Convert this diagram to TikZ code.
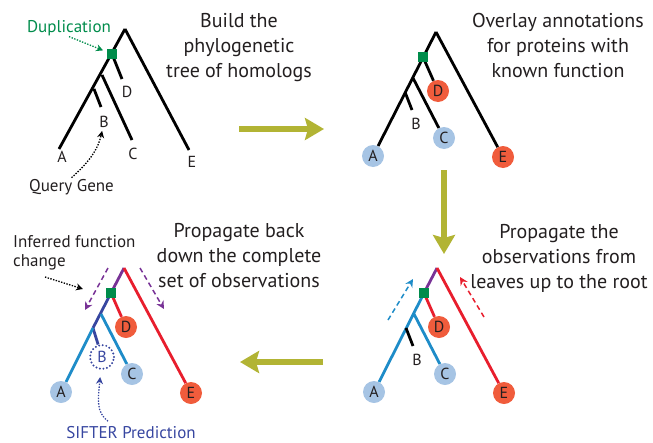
\documentclass[tikz,border=0pt]{standalone}
\usepackage{fontspec}
\setmainfont{PT Sans}
\usetikzlibrary{arrows.meta}

\definecolor{inkgray}{RGB}{35,31,32}
\definecolor{arrowolive}{RGB}{178,180,52}
\definecolor{dupgreen}{RGB}{0,140,75}
\definecolor{leafred}{RGB}{240,92,60}
\definecolor{leafblue}{RGB}{166,196,228}
\definecolor{linered}{RGB}{232,30,45}
\definecolor{linecyan}{RGB}{30,140,200}
\definecolor{lineblue}{RGB}{55,70,160}
\definecolor{linepurple}{RGB}{120,50,150}

\newcommand{\titlesize}{\fontsize{20}{25}\selectfont}
\newcommand{\notesize}{\fontsize{17}{19}\selectfont}
\newcommand{\leafsize}{\fontsize{16}{16}\selectfont}

% knots shared by all four trees
\newcommand{\treeknots}{%
  \coordinate (root) at (0,0);
  \coordinate (dup) at (-13,25);
  \coordinate (nC) at (-23,46);
  \coordinate (nB) at (-31,60);
}

\begin{document}
\begin{tikzpicture}[x=1pt,y=-1pt,
  every node/.style={text=inkgray},
  branch/.style={line width=2.8pt},
  leaflabel/.style={inner sep=1pt,font=\leafsize},
  leafdot/.style={circle,inner sep=0pt,minimum size=22pt,font=\leafsize},
  guessdot/.style={circle,inner sep=0pt,minimum size=24pt,font=\leafsize,text=lineblue,
    draw=lineblue,line width=2.2pt,line cap=round,dash pattern=on 0pt off 3.6pt},
  dupbox/.style={rectangle,fill=dupgreen,inner sep=0pt,minimum size=10pt},
  titletext/.style={align=center,inner sep=0pt,font=\titlesize},
  notetext/.style={inner sep=1pt,font=\notesize},
  dotarrow/.style={line width=1.3pt,dash pattern=on 1.4pt off 1.4pt,-{Stealth[length=7pt,width=7pt]}},
  flowarrow/.style={line width=1.5pt,dash pattern=on 5pt off 3.5pt,-{Stealth[length=8pt,width=8pt]}},
  stepflow/.style={arrowolive,line width=5.5pt,-{Stealth[length=19pt,width=22pt,inset=3pt]}}]
\useasboundingbox (0,0) rectangle (653,442);

% tree of homologs
\begin{scope}[shift={(125,29)},name prefix=tl-]
  \treeknots
  \coordinate (Aend) at (-66,120);
  \coordinate (Bend) at (-24,78);
  \coordinate (Cend) at (7,111);
  \coordinate (Dend) at (-3,50);
  \coordinate (Eend) at (64,121);
  \draw[branch] (root) -- (Aend) (root) -- (Eend) (dup) -- (Dend) (nC) -- (Cend) (nB) -- (Bend);
  \node[leaflabel] (A) at (-63,128) {A};
  \node[leaflabel] (B) at (-21,93) {B};
  \node[leaflabel] (C) at (8,125) {C};
  \node[leaflabel] (D) at (2,63) {D};
  \node[leaflabel] (E) at (67,133) {E};
  \node[dupbox] (sq) at (dup) {};
\end{scope}

% known functions
\begin{scope}[shift={(436,32)},name prefix=tr-]
  \treeknots
  \node[leafdot,fill=leafblue] (A) at (-63,124) {A};
  \node[leafdot,fill=leafblue] (C) at (8,106) {C};
  \node[leafdot,fill=leafred] (D) at (2,59) {D};
  \node[leafdot,fill=leafred] (E) at (67,125) {E};
  \coordinate (Bend) at (-24,78);
  \node[leaflabel] (B) at (-20,92) {B};
  \draw[branch] (root) -- (A) (root) -- (E) (dup) -- (D) (nC) -- (C) (nB) -- (Bend);
  \node[dupbox] (sq) at (dup) {};
\end{scope}

% propagate back down
\begin{scope}[shift={(124,268)},name prefix=bl-]
  \treeknots
  \node[leafdot,fill=leafblue] (A) at (-63,124) {A};
  \node[leafdot,fill=leafblue] (C) at (8,106) {C};
  \node[leafdot,fill=leafred] (D) at (2,59) {D};
  \node[leafdot,fill=leafred] (E) at (67,125) {E};
  \node[guessdot] (B) at (-22,89) {B};
  \draw[branch,linepurple] (root) -- (dup);
  \draw[branch,lineblue] (dup) -- (nB) (nB) -- (B);
  \draw[branch,linecyan] (nB) -- (A) (nC) -- (C);
  \draw[branch,linered] (dup) -- (D) (root) -- (E);
  \node[dupbox] (sq) at (dup) {};
  \coordinate (lu) at (-16,0);
  \coordinate (ld) at (-39,42);
  \coordinate (ru) at (16,0);
  \coordinate (rd) at (40,41);
  \coordinate (chg) at (-41,21);
  \draw[flowarrow,linepurple] (lu) -- (ld);
  \draw[flowarrow,linepurple] (ru) -- (rd);
\end{scope}

% propagate up to the root
\begin{scope}[shift={(437,268)},name prefix=br-]
  \treeknots
  \node[leafdot,fill=leafblue] (A) at (-63,124) {A};
  \node[leafdot,fill=leafblue] (C) at (8,106) {C};
  \node[leafdot,fill=leafred] (D) at (2,59) {D};
  \node[leafdot,fill=leafred] (E) at (67,125) {E};
  \coordinate (Bend) at (-24,78);
  \node[leaflabel] (B) at (-20,92) {B};
  \draw[branch,linepurple] (root) -- (dup);
  \draw[branch,linecyan] (dup) -- (A) (nC) -- (C);
  \draw[branch] (nB) -- (Bend);
  \draw[branch,linered] (dup) -- (D) (root) -- (E);
  \node[dupbox] (sq) at (dup) {};
  \coordinate (cl) at (-49,52);
  \coordinate (cu) at (-24,11);
  \coordinate (rl) at (47,49);
  \coordinate (ru) at (23,9);
  \draw[flowarrow,linecyan] (cl) -- (cu);
  \draw[flowarrow,linered] (rl) -- (ru);
\end{scope}

% step titles
\node[titletext,anchor=base] (build) at (239,77) {Build the\\phylogenetic\\tree of homologs};
\node[titletext,anchor=base] (overlay) at (558,77) {Overlay annotations\\for proteins with\\known function};
\node[titletext,anchor=base] (back) at (239,287) {Propagate back\\down the complete\\set of observations};
\node[titletext,anchor=base] (up) at (559,288) {Propagate the\\observations from\\leaves up to the root};

% arrows between the steps
\coordinate (go1a) at (239,129);
\coordinate (go1b) at (324,129);
\coordinate (go2a) at (444,170);
\coordinate (go2b) at (444,254);
\coordinate (go3a) at (323,362);
\coordinate (go3b) at (240,362);
\draw[stepflow] (go1a) -- (go1b);
\draw[stepflow] (go2a) -- (go2b);
\draw[stepflow] (go3a) -- (go3b);

% notes
\node[notetext,text=dupgreen,anchor=base] (dupl) at (69,32) {Duplication};
\draw[dotarrow,dupgreen,shorten >=4pt] (dupl.south) -- (tl-sq);
\node[notetext,anchor=base] (query) at (71.5,191) {Query Gene};
\draw[dotarrow,shorten >=2pt] (query.north) .. controls (88,163) and (98,150) .. (tl-B);
\node[notetext,anchor=base west,align=left] (infer) at (12,266) {Inferred function\\change};
\coordinate (inferfoot) at (45,277);
\draw[dotarrow] (inferfoot) -- (bl-chg);
\node[notetext,inner sep=0pt,text=lineblue,anchor=base] (sifter) at (131,438.5) {SIFTER Prediction};
\draw[dotarrow,lineblue,shorten >=7pt] ([xshift=-23pt,yshift=5pt]sifter.north) .. controls (96,412) and (98,400) .. (bl-B);
\end{tikzpicture}
\end{document}
